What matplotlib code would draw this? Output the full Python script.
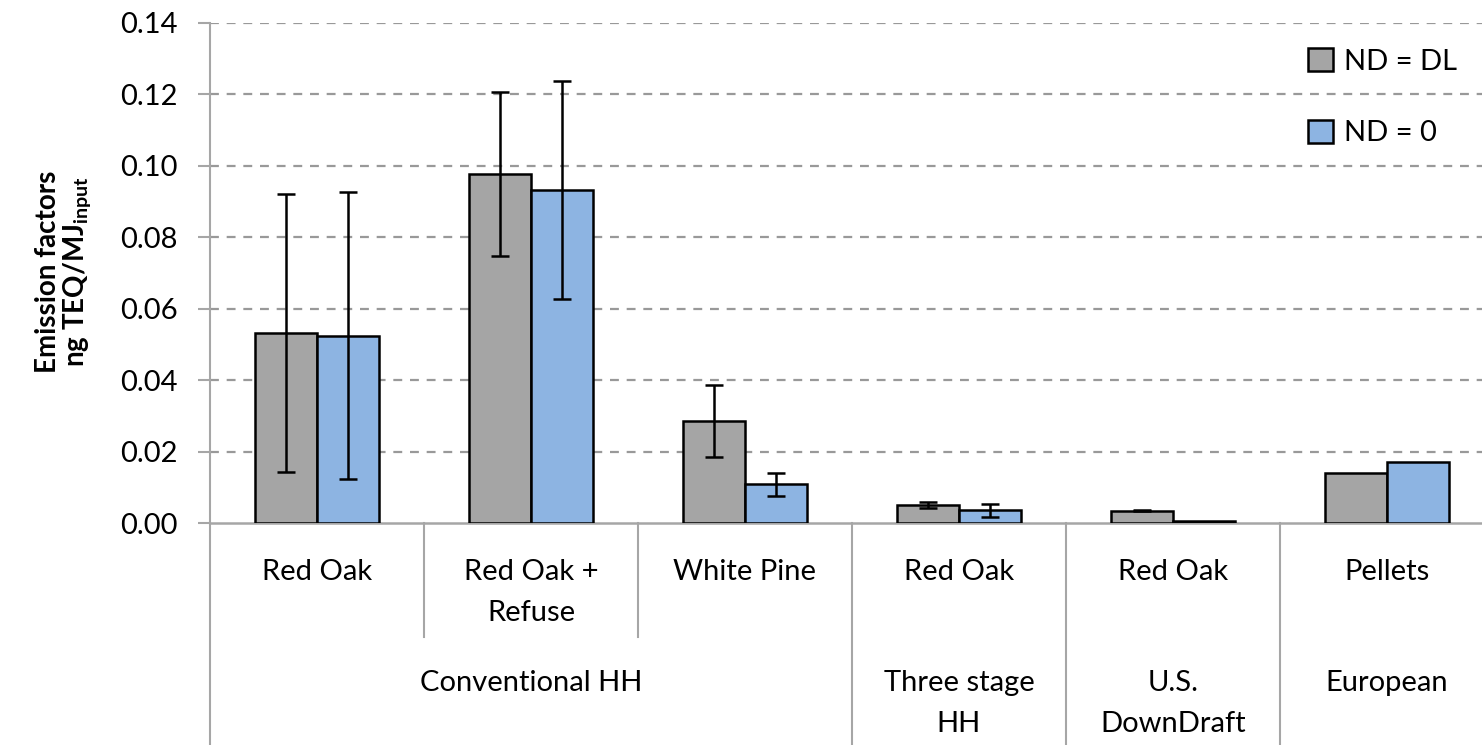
import matplotlib
matplotlib.use("Agg")
import matplotlib.pyplot as plt
import numpy as np

plt.rcParams['font.family'] = ['Lato', 'DejaVu Sans']

# Data
subcats = ["Red Oak", "Red Oak +\nRefuse", "White Pine", "Red Oak", "Red Oak", "Pellets"]
groups = ["Conventional HH", "Three stage\nHH", "U.S.\nDownDraft", "European"]
group_spans = [(0, 2), (3, 3), (4, 4), (5, 5)]
series_names = ["ND = DL", "ND = 0"]
nd_dl = [0.0532, 0.0977, 0.0286, 0.0050, 0.0035, 0.0140]
nd_dl_err = [0.0388, 0.0230, 0.0101, 0.0008, 0.0002, np.nan]
nd_0 = [0.0524, 0.0933, 0.0109, 0.0036, 0.0006, 0.0171]
nd_0_err = [0.0402, 0.0305, 0.0032, 0.0018, np.nan, np.nan]
yticks = [0.00, 0.02, 0.04, 0.06, 0.08, 0.10, 0.12, 0.14]

gray = "#A5A5A5"
blue = "#8DB4E2"
linecol = "#A6A6A6"
FS = 21

fig = plt.figure(figsize=(14.82, 7.45), dpi=100)
ax = fig.add_axes([210/1482, (745-523)/745, (1494-210)/1482, 500/745])

x = np.arange(len(subcats))
w = 0.29
ax.bar(x - w/2, nd_dl, w, color=gray, edgecolor="black", linewidth=1.8, label=series_names[0], zorder=3)
ax.bar(x + w/2, nd_0, w, color=blue, edgecolor="black", linewidth=1.8, label=series_names[1], zorder=3)
ax.errorbar(x - w/2, nd_dl, yerr=nd_dl_err, fmt="none", ecolor="black", elinewidth=1.8, capsize=6.5, capthick=1.8, zorder=4)
ax.errorbar(x + w/2, nd_0, yerr=nd_0_err, fmt="none", ecolor="black", elinewidth=1.8, capsize=6.5, capthick=1.8, zorder=4)

ax.set_xlim(-0.5, len(subcats) - 0.5)
ax.set_ylim(0, 0.14)
ax.set_yticks(yticks)
ax.set_yticklabels([f"{v:.2f}" for v in yticks], fontsize=FS)
ax.tick_params(axis="y", length=9, width=1.5, color=linecol, pad=14)
ax.set_xticks([])
for v in yticks[1:]:
    ax.axhline(v, color="#999999", linestyle=(0, (4, 3.5)), linewidth=1.6, zorder=1)

for s in ["top", "right"]:
    ax.spines[s].set_visible(False)
ax.spines["left"].set_color(linecol)
ax.spines["left"].set_linewidth(1.5)
ax.spines["bottom"].set_color(linecol)
ax.spines["bottom"].set_linewidth(1.8)

trans = ax.get_xaxis_transform()
# left axis extension
ax.plot([-0.5, -0.5], [0, -0.444], color=linecol, lw=1.5, transform=trans, clip_on=False)
# separators
group_bounds = set()
for (a, b) in group_spans:
    group_bounds.add(b + 0.5)
for i in range(len(subcats) - 1):
    bx = i + 0.5
    if bx in group_bounds:
        ax.plot([bx, bx], [0, -0.444], color=linecol, lw=1.5, transform=trans, clip_on=False)
    else:
        ax.plot([bx, bx], [0, -0.228], color=linecol, lw=1.5, transform=trans, clip_on=False)

for i, lab in enumerate(subcats):
    ax.text(i, -0.072, lab, transform=trans, ha="center", va="top", fontsize=FS, linespacing=1.72)
for (a, b), g in zip(group_spans, groups):
    ax.text((a + b) / 2, -0.294, g, transform=trans, ha="center", va="top", fontsize=FS, linespacing=1.72)

fig.text(48/1482, 1 - 272/745, "Emission factors", rotation=90, ha="center", va="center",
         fontsize=20, fontweight="bold")
fig.text(78/1482, 1 - 272/745, r"ng TEQ/MJ$_{\mathregular{input}}$", rotation=90, ha="center", va="center",
         fontsize=20, fontweight="bold")

leg = ax.legend(loc="upper left", bbox_to_anchor=(1283/1284 - 210/1284, 1.0), frameon=False, fontsize=FS,
                labelspacing=1.55, handlelength=0.85, handleheight=0.85, handletextpad=0.4, borderaxespad=0.45)

fig.savefig("out.png", dpi=100)
